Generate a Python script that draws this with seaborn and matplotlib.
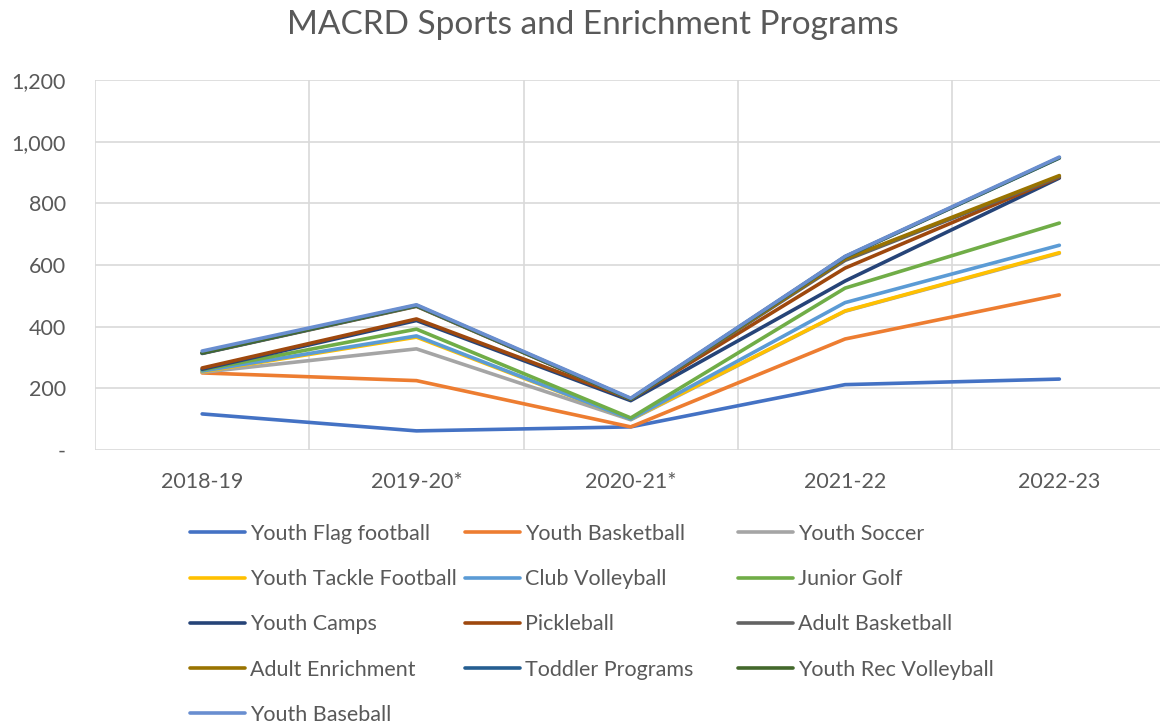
import numpy as np
import pandas as pd
import matplotlib
matplotlib.use("Agg")
import matplotlib.pyplot as plt
import seaborn as sns
from matplotlib.ticker import FixedLocator, FuncFormatter

# ---- data (per-program values; chart is an Excel stacked line chart) ----
years = ["2018-19", "2019-20*", "2020-21*", "2021-22", "2022-23"]
programs = ["Youth Flag football", "Youth Basketball", "Youth Soccer",
            "Youth Tackle Football", "Club Volleyball", "Junior Golf",
            "Youth Camps", "Pickleball", "Adult Basketball",
            "Adult Enrichment", "Toddler Programs", "Youth Rec Volleyball",
            "Youth Baseball"]
youth_flag_football = [117, 62, 75, 212, 230]
youth_basketball = [133, 163, 0, 148, 273]
youth_soccer = [2, 103, 23, 90, 135]
youth_tackle_football = [2, 38, 2, 1, 2]
club_volleyball = [2, 4, 0, 27, 24]
junior_golf = [4, 22, 4, 47, 72]
youth_camps = [2, 28, 56, 23, 146]
pickleball = [4, 5, 5, 42, 3]
adult_basketball = [47, 41, 0, 25, 2]
adult_enrichment = [1, 1, 0, 5, 3]
toddler_programs = [0, 1, 1, 6, 57]
youth_rec_volleyball = [1, 1, 0, 1, 1]
youth_baseball = [6, 2, 2, 1, 2]
colors = ["#4472C4", "#ED7D31", "#A5A5A5", "#FFC000", "#5B9BD5", "#70AD47",
          "#264478", "#9E480E", "#636363", "#997300", "#255E91", "#43682B",
          "#698ED0"]
y_ticks = [0, 200, 400, 600, 800, 1000, 1200]

series = [youth_flag_football, youth_basketball, youth_soccer,
          youth_tackle_football, club_volleyball, junior_golf, youth_camps,
          pickleball, adult_basketball, adult_enrichment, toddler_programs,
          youth_rec_volleyball, youth_baseball]
stacked = np.cumsum(np.array(series, dtype=float), axis=0)

rows = []
for name, vals in zip(programs, stacked):
    for yr, v in zip(years, vals):
        rows.append({"Year": yr, "Program": name, "Value": v})
df = pd.DataFrame(rows)

# ---- figure ----
sns.set_theme(style="white")
plt.rcParams["font.family"] = ["Lato", "DejaVu Sans"]
W, H = 1160, 726
fig = plt.figure(figsize=(W / 100, H / 100), dpi=100)
left, right, top, bottom = 95, 1160, 80, 450
ax = fig.add_axes([left / W, 1 - bottom / H, (right - left) / W, (bottom - top) / H])

sns.lineplot(data=df, x="Year", y="Value", hue="Program", hue_order=programs,
             palette=colors, sort=False, linewidth=2.6, legend=False, ax=ax,
             estimator=None)

step = 214.3
ax.set_xlim(-0.5, -0.5 + (right - left) / step)
ax.set_ylim(0, 1200)
ax.yaxis.set_major_locator(FixedLocator(y_ticks))
ax.yaxis.set_major_formatter(FuncFormatter(lambda v, p: "-" if v == 0 else f"{int(v):,}"))
ax.xaxis.set_minor_locator(FixedLocator([-0.5, 0.5, 1.5, 2.5, 3.5]))
ax.grid(True, axis="y", which="major", color="#D9D9D9", linewidth=1.2)
ax.grid(True, axis="x", which="minor", color="#D9D9D9", linewidth=1.2)
ax.grid(False, axis="x", which="major")
for s in ax.spines.values():
    s.set_visible(False)
ax.tick_params(axis="y", which="major", length=0, labelsize=15.5, labelcolor="#595959", pad=21)
ax.tick_params(axis="x", which="major", length=0, labelsize=15.5, labelcolor="#595959", pad=16)
ax.tick_params(axis="x", which="minor", length=0)
ax.set_xlabel("")
ax.set_ylabel("")

fig.text(593 / W, 1 - 25 / H, "MACRD Sports and Enrichment Programs",
         ha="center", va="center", fontsize=24, color="#595959")

# legend: Excel lays entries out row by row in three equal-width columns
col_x = [190, 465, 738]
for c, x0 in enumerate(col_x):
    idx = list(range(c, len(programs), 3))
    handles = [plt.Line2D([], [], color=colors[i], linewidth=2.6) for i in idx]
    labels = [programs[i] for i in idx]
    leg = fig.legend(handles, labels, ncol=1, loc="upper left",
                     bbox_to_anchor=(x0 / W, 1 - 524 / H), frameon=False,
                     fontsize=15.5, handlelength=2.55, handletextpad=0.25,
                     labelspacing=1.17, borderpad=0, borderaxespad=0)
    for t in leg.get_texts():
        t.set_color("#595959")

fig.savefig("out.png", dpi=100)
